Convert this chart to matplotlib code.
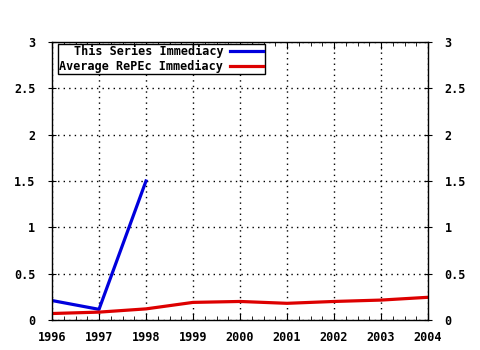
import matplotlib
matplotlib.use("Agg")
import matplotlib.pyplot as plt
from matplotlib.ticker import MultipleLocator

# data
years = [1996, 1997, 1998, 1999, 2000, 2001, 2002, 2003, 2004]
series_years = [1996, 1997, 1998]
series_vals = [0.21, 0.115, 1.5]
avg_vals = [0.07, 0.085, 0.12, 0.19, 0.20, 0.18, 0.20, 0.215, 0.245]
yticks = [0, 0.5, 1, 1.5, 2, 2.5, 3]
ylabels = ["0", "0.5", "1", "1.5", "2", "2.5", "3"]

plt.rcParams['font.family'] = ['DejaVu Sans Mono']
plt.rcParams['font.weight'] = 'bold'

fig = plt.figure(figsize=(4.8, 3.5), dpi=100)
ax = fig.add_axes([52/480, 30/350, 376/480, 278/350])

ax.plot(series_years, series_vals, color="#0000dd", lw=2.3, label="This Series Immediacy")
ax.plot(years, avg_vals, color="#dd0000", lw=2.3, label="Average RePEc Immediacy")

ax.set_xlim(1996, 2004)
ax.set_ylim(0, 3)
ax.set_xticks(years)
ax.set_xticklabels([str(y) for y in years], fontsize=8.5, fontweight="bold")
ax.xaxis.set_minor_locator(MultipleLocator(0.25))
ax.set_yticks(yticks)
ax.set_yticklabels(ylabels, fontsize=8.5, fontweight="bold")

ax.tick_params(axis="x", which="both", direction="in", top=True, bottom=True, pad=8)
ax.tick_params(axis="x", which="major", length=5)
ax.tick_params(axis="x", which="minor", length=3)
ax.tick_params(axis="y", direction="inout", left=True, right=True,
               labelleft=True, labelright=True, length=6, pad=9)

ax.grid(True, which="major", color="black", linestyle=(0, (1, 3)), lw=1.0)
for s in ax.spines.values():
    s.set_linewidth(1.0)

leg = ax.legend(loc="upper left", bbox_to_anchor=(0.016, 0.993), markerfirst=False,
                frameon=True, fancybox=False, edgecolor="black", framealpha=1,
                fontsize=8.5, handlelength=2.8, borderpad=0.12, labelspacing=0.1,
                handletextpad=0.6, borderaxespad=0)
leg.get_frame().set_linewidth(1.0)
for t in leg.get_texts():
    t.set_ha("right")
    t.set_fontweight("bold")
leg._legend_box.align = "right"

fig.savefig("out.png", dpi=100)
